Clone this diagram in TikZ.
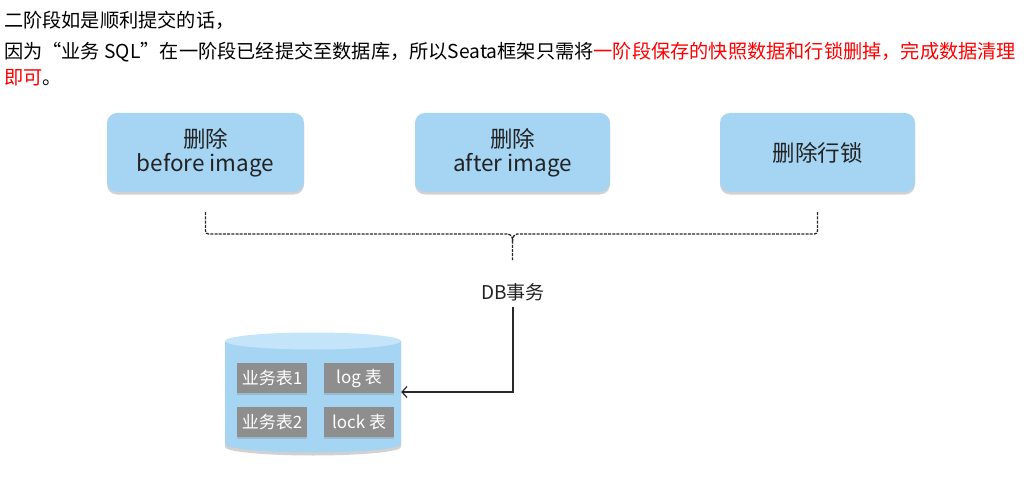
\documentclass[tikz,border=0pt]{standalone}
\usepackage{fontspec}
\setmainfont{Noto Sans CJK SC}
\newfontfamily\boxfont{Noto Sans CJK SC}
\usetikzlibrary{arrows.meta,shadows,calc}
\definecolor{boxblue}{RGB}{166,213,244}
\definecolor{cylbody}{RGB}{166,212,243}
\definecolor{cyltop}{RGB}{196,229,249}
\definecolor{tblgray}{RGB}{142,142,142}
\definecolor{ink}{RGB}{34,34,34}
\definecolor{linegray}{RGB}{40,40,40}
\begin{document}
\begin{tikzpicture}[x=1pt,y=-1pt,
  toptext/.style={anchor=west,inner sep=0pt,font=\fontsize{19.2}{24}\selectfont,text=black},
  stepbox/.style={rounded corners=10pt,fill=boxblue,minimum height=79pt,inner sep=0pt,
    align=center,text=ink,font=\boxfont\fontsize{22.5}{28}\selectfont,
    drop shadow={opacity=0.35,shadow xshift=0pt,shadow yshift=-2.5pt}},
  tbl/.style={fill=tblgray,minimum width=70pt,minimum height=30pt,inner sep=0pt,
    text=white,font=\fontsize{17}{20}\selectfont,
    drop shadow={opacity=0.3,shadow xshift=0pt,shadow yshift=-1.5pt}},
  bracestyle/.style={draw=linegray,line width=1.3pt,dash pattern=on 3pt off 1.2pt},
  flow/.style={draw=linegray,line width=1.2pt,-{Straight Barb[length=5pt,width=11pt,line width=1.2pt]}}
]
\fill[white] (0,0) rectangle (1028,492);
\useasboundingbox (0,0) rectangle (1028,492);

% header text
\node[toptext] (t1) at (4,20) {二阶段如是顺利提交的话，};
\node[toptext] (t2) at (4,52) {因为“业务 SQL”在一阶段已经提交至数据库，所以Seata框架只需将\textcolor{red}{一阶段保存的快照数据和行锁删掉，完成数据清理}};
\node[toptext] (t3) at (4,78) {\textcolor{red}{即可}。};

% three boxes
\node[stepbox,minimum width=197pt] (b1) at (205.5,152.5) {删除\\[-4pt]before image};
\node[stepbox,minimum width=195pt] (b2) at (512.5,152.5) {删除\\[-4pt]after image};
\node[stepbox,minimum width=195pt] (b3) at (817.5,152.5) {删除行锁};

% brace
\coordinate (bl) at ([yshift=-20pt]b1.south);
\coordinate (br) at ([yshift=-20pt]b3.south);
\coordinate (bs) at (512.5,260);
\draw[bracestyle,rounded corners=3pt] (bl) -- (bl |- 0,234) -- (505,234)
  .. controls (510.5,234) and (512.5,236) .. (512.5,243) -- (bs);
\draw[bracestyle,rounded corners=3pt] (br) -- (br |- 0,234) -- (520,234)
  .. controls (514.5,234) and (512.5,236) .. (512.5,243);

% DB transaction label
\node[font=\fontsize{19}{22}\selectfont,text=ink,inner sep=6pt] (tx) at (513,292) {DB事务};

% database cylinder
\fill[black,opacity=0.18] (225,344) -- (225,447) arc[start angle=180,end angle=360,x radius=88,y radius=-8.5] -- (401,344) -- cycle;
\fill[cylbody] (225,341) -- (225,444) arc[start angle=180,end angle=360,x radius=88,y radius=-8.5] -- (401,341) -- cycle;
\fill[cyltop] (313,341) ellipse[x radius=88,y radius=8.5];
\node[minimum width=176pt,minimum height=120pt,inner sep=0pt] (db) at (313,392) {};

\node[tbl] (u1) at (272,378) {业务表1};
\node[tbl] (lg) at (359,378) {log 表};
\node[tbl] (u2) at (272,422) {业务表2};
\node[tbl] (lk) at (359,422) {lock 表};

% arrow
\draw[flow] (tx.south) |- (db.east);
\end{tikzpicture}
\end{document}
